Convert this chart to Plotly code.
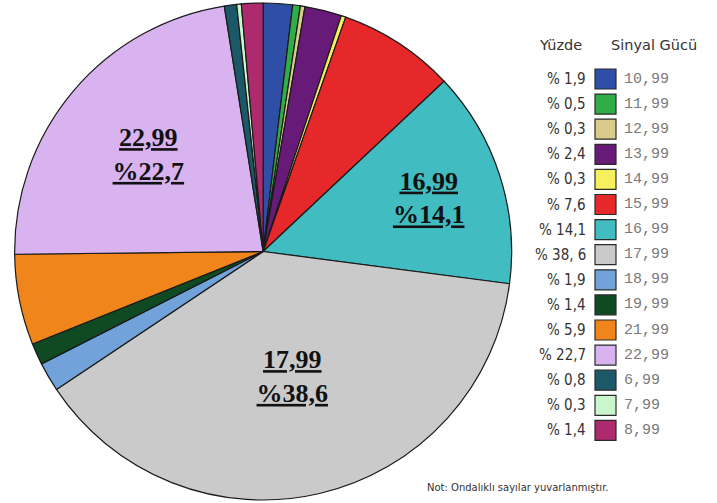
import plotly.graph_objects as go

# ---- data ----
signal_labels = ["10,99", "11,99", "12,99", "13,99", "14,99", "15,99", "16,99", "17,99",
                 "18,99", "19,99", "21,99", "22,99", "6,99", "7,99", "8,99"]
percent_values = [1.9, 0.5, 0.3, 2.4, 0.3, 7.6, 14.1, 38.6, 1.9, 1.4, 5.9, 22.7, 0.8, 0.3, 1.4]
percent_labels = ["% 1,9", "% 0,5", "% 0,3", "% 2,4", "% 0,3", "% 7,6", "% 14,1", "% 38, 6",
                  "% 1,9", "% 1,4", "% 5,9", "% 22,7", "% 0,8", "% 0,3", "% 1,4"]
colors = ["#2f4fa6", "#2fae48", "#d9cb8a", "#681a78", "#f6f05e", "#e6282b", "#41bcc1", "#cacaca",
          "#72a2da", "#0f4a22", "#f0861b", "#d9b2f0", "#1b5868", "#c9f7cb", "#ad2a6e"]
inside_labels = {"16,99": "%14,1", "17,99": "%38,6", "22,99": "%22,7"}

W, H = 717, 503
MT, MB = 3, 3


def px_x(x):
    return x / W


def px_y(y):
    return (H - MB - y) / (H - MT - MB)


texts = []
for lab in signal_labels:
    if lab in inside_labels:
        texts.append("<b><u>%s</u></b><br><b><u>%s</u></b>" % (lab, inside_labels[lab]))
    else:
        texts.append("")

fig = go.Figure(go.Pie(
    labels=signal_labels,
    values=percent_values,
    text=texts,
    texttemplate="%{text}",
    textposition="inside",
    insidetextorientation="horizontal",
    sort=False,
    direction="clockwise",
    rotation=0,
    marker=dict(colors=colors, line=dict(color="#1a1a1a", width=1.2)),
    textfont=dict(family="Liberation Serif", size=26, color="#111111"),
    domain=dict(x=[0, 0.734], y=[0, 1]),
    showlegend=False,
    hoverinfo="label+percent",
))

shapes = []
annotations = []
# legend header
annotations.append(dict(x=px_x(537), y=px_y(45), xref="paper", yref="paper", text="Yüzde",
                        showarrow=False, xanchor="left", yanchor="middle",
                        font=dict(family="DejaVu Sans", size=14.5, color="#333333")))
annotations.append(dict(x=px_x(609), y=px_y(45), xref="paper", yref="paper", text="Sinyal Gücü",
                        showarrow=False, xanchor="left", yanchor="middle",
                        font=dict(family="DejaVu Sans", size=14.5, color="#333333")))
row0, step = 79, 25.1
for i, (lab, pl, c) in enumerate(zip(signal_labels, percent_labels, colors)):
    yc = row0 + i * step
    annotations.append(dict(x=px_x(588), y=px_y(yc), xref="paper", yref="paper", text=pl,
                            showarrow=False, xanchor="right", yanchor="middle",
                            font=dict(family="DejaVu Sans Condensed", size=15, color="#333333")))
    shapes.append(dict(type="rect", xref="paper", yref="paper",
                       x0=px_x(595), x1=px_x(616), y0=px_y(yc - 10), y1=px_y(yc + 10),
                       fillcolor=c, line=dict(color="#2a2a2a", width=1.2)))
    annotations.append(dict(x=px_x(622), y=px_y(yc), xref="paper", yref="paper", text=lab,
                            showarrow=False, xanchor="left", yanchor="middle",
                            font=dict(family="Liberation Mono", size=15, color="#7a7a7a")))

annotations.append(dict(x=px_x(425), y=px_y(487), xref="paper", yref="paper",
                        text="Not: Ondalıklı sayılar yuvarlanmıştır.",
                        showarrow=False, xanchor="left", yanchor="middle",
                        font=dict(family="DejaVu Sans", size=10, color="#333333")))

fig.update_layout(
    width=W, height=H,
    margin=dict(l=0, r=0, t=MT, b=MB),
    paper_bgcolor="white", plot_bgcolor="white",
    shapes=shapes, annotations=annotations,
)

fig.write_html("out.html", config={"displayModeBar": False},
               post_script="document.body.style.margin='0';")
